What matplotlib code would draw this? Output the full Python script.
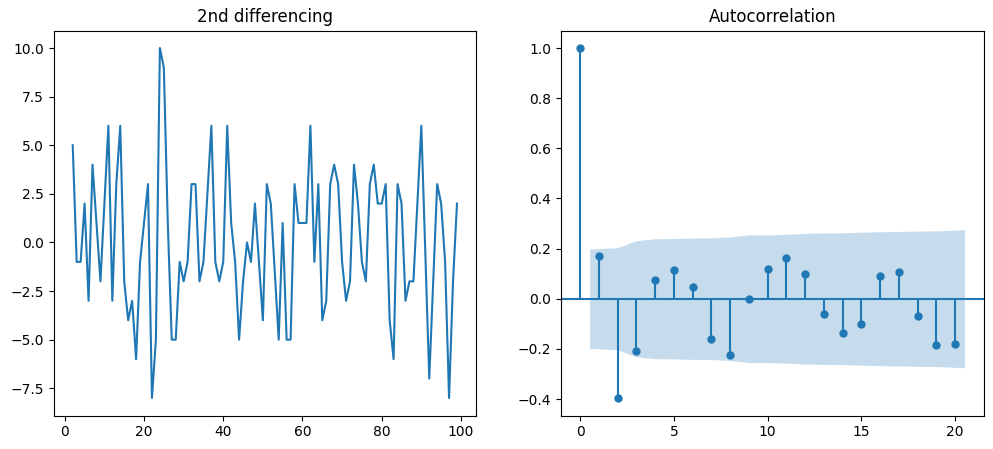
import numpy as np
import matplotlib
matplotlib.use("Agg")
import matplotlib.pyplot as plt

# 2nd differenced series (index 2..99)
diff_index = list(range(2, 100))
diff_values = [5, -1, -1, 2, -3, 4, 1, -2, 2, 6,
               -3, 3, 6, -2, -4, -3, -6, -1, 1, 3,
               -8, -5, 10, 9, 1, -5, -5, -1, -2, -1,
               3, 3, -2, -1, 2.5, 6, -1, -2, -1, 6,
               1, -1, -5, -2, 0, -1, 2, -1, -4, 3,
               2, -1.5, -5, 1, -5, -5, 3, 1, 1, 1,
               6, -1, 3, -4, -3, 3, 4, 3, -1, -3,
               -2, 4, 2, -1, -2, 3, 4, 2, 2, 3,
               -4, -6, 3, 2, -3, -2, -2, 2, 6, -0.5,
               -7, -2, 3, 2, -1, -8, -2, 2]

# Autocorrelation values, lags 0..20
acf_lags = list(range(0, 21))
acf_values = [1.0, 0.170, -0.396, -0.209, 0.075, 0.114, 0.047, -0.162, -0.225, -0.001,
              0.118, 0.162, 0.098, -0.061, -0.137, -0.101, 0.090, 0.106, -0.069, -0.185,
              -0.181]

fig = plt.figure(figsize=(9.93, 4.49), dpi=100)
W, H = 993.0, 449.0
axw, axh = 422.7 / W, 385.0 / H
bottom = (H - 415.5) / H
ax1 = fig.add_axes([53.5 / W, bottom, axw, axh])
ax2 = fig.add_axes([561.0 / W, bottom, axw, axh])

ax1.plot(diff_index, diff_values, color="C0")
ax1.set_title("2nd differencing")

# ACF plot (statsmodels style)
lags = np.array(acf_lags, dtype=float)
acf = np.array(acf_values)
n = len(diff_values)
varacf = np.ones(len(acf)) / n
varacf[0] = 0
varacf[1] = 1.0 / n
varacf[2:] *= 1 + 2 * np.cumsum(acf[1:-1] ** 2)
band = 1.959964 * np.sqrt(varacf)

ax2.vlines(lags, [0], acf, color="C0")
ax2.axhline(0, color="C0")
ax2.plot(lags, acf, marker="o", markersize=5, linestyle="None", color="C0")
fl = lags[1:].copy()
fl[0] -= 0.5
fl[-1] += 0.5
ax2.fill_between(fl, -band[1:], band[1:], alpha=0.25, color="C0", linewidth=0)
ax2.margins(0.05)
ax2.set_title("Autocorrelation")

fig.savefig("out.png", dpi=100)
